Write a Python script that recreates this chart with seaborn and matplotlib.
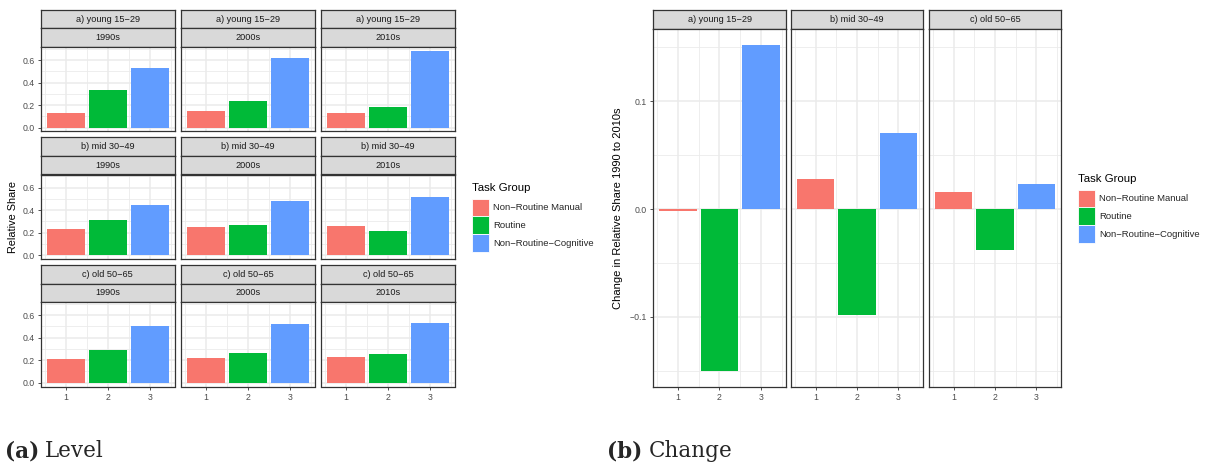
import matplotlib
matplotlib.use("Agg")
import matplotlib.pyplot as plt
import numpy as np
import pandas as pd
import seaborn as sns
from matplotlib.patches import Patch

sns.set_style("white")
plt.rcParams["font.family"] = ["Liberation Sans", "DejaVu Sans"]
plt.rcParams["axes.unicode_minus"] = True

# ---- data -------------------------------------------------------------
task_ids = [1, 2, 3]
task_groups = ["Non\u2212Routine Manual", "Routine", "Non\u2212Routine\u2212Cognitive"]
age_groups = ["a) young 15\u221229", "b) mid 30\u221249", "c) old 50\u221265"]
decades = ["1990s", "2000s", "2010s"]

# relative share per decade (rows) and task group (columns)
share_young = [[0.133, 0.337, 0.533],
               [0.144, 0.233, 0.621],
               [0.133, 0.186, 0.683]]
share_mid = [[0.235, 0.315, 0.447],
             [0.253, 0.271, 0.482],
             [0.262, 0.218, 0.518]]
share_old = [[0.210, 0.290, 0.503],
             [0.219, 0.263, 0.521],
             [0.225, 0.253, 0.527]]

# change in relative share, 1990s to 2010s
change_young = [-0.002, -0.150, 0.152]
change_mid = [0.028, -0.098, 0.071]
change_old = [0.016, -0.038, 0.023]

palette = ["#F8766D", "#00BA38", "#619CFF"]

# ---- style constants ---------------------------------------------------
W, H = 1208, 469
GRID = "#EBEBEB"
BORDER = "#333333"
STRIP = "#D9D9D9"
TICKCOL = "#4D4D4D"
TICK_FS = 6.3
STRIP_FS = 6.6

fig = plt.figure(figsize=(W / 100, H / 100), dpi=100)


def px(x0, y0, x1, y1):
    return [x0 / W, 1 - y1 / H, (x1 - x0) / W, (y1 - y0) / H]


def strip(x0, y0, x1, y1, label):
    ax = fig.add_axes(px(x0, y0, x1, y1))
    ax.set_facecolor(STRIP)
    ax.set_xticks([])
    ax.set_yticks([])
    for s in ax.spines.values():
        s.set_color(BORDER)
        s.set_linewidth(0.9)
    ax.text(0.5, 0.5, label, ha="center", va="center", fontsize=STRIP_FS,
            color="#1A1A1A", transform=ax.transAxes)
    return ax


def facet(rect, values, ylim, yticks, ylabels, yminor, show_y, show_x):
    ax = fig.add_axes(px(*rect))
    df = pd.DataFrame({"task": task_ids, "value": values, "group": task_groups})
    sns.barplot(data=df, x="task", y="value", hue="group", hue_order=task_groups,
                palette=palette, native_scale=True, width=0.9, dodge=False,
                saturation=1, linewidth=0, legend=False, ax=ax)
    ax.set_xlim(0.405, 3.595)
    ax.set_ylim(*ylim)
    ax.set_xticks(task_ids)
    ax.set_xticks([0.5, 1.5, 2.5, 3.5], minor=True)
    ax.set_yticks(yticks)
    ax.set_yticks(yminor, minor=True)
    ax.set_xticklabels([str(t) for t in task_ids] if show_x else [])
    ax.set_yticklabels(ylabels if show_y else [])
    ax.set_xlabel("")
    ax.set_ylabel("")
    ax.set_axisbelow(True)
    ax.grid(which="major", color=GRID, linewidth=1.15)
    ax.grid(which="minor", color=GRID, linewidth=0.6)
    ax.tick_params(which="major", length=2.2, width=0.6, color=BORDER,
                   labelsize=TICK_FS, labelcolor=TICKCOL, pad=2.3,
                   bottom=show_x, left=show_y)
    ax.tick_params(which="minor", length=0)
    for s in ax.spines.values():
        s.set_color(BORDER)
        s.set_linewidth(0.9)
    return ax


# ---- (a) level: 3 x 3 facets -----------------------------------------
shares = [share_young, share_mid, share_old]
all_levels = np.array(shares).ravel()
lv_max = all_levels.max()
level_ylim = (-0.05 * lv_max, 1.05 * lv_max)
col_x = [(40.7, 175), (181, 315), (321, 455)]
for r, (age, share) in enumerate(zip(age_groups, shares)):
    top = 10 + 127.5 * r
    for c, (dec, vals) in enumerate(zip(decades, share)):
        x0, x1 = col_x[c]
        strip(x0, top, x1, top + 18.5, age)
        strip(x0, top + 18.5, x1, top + 37, dec)
        facet((x0, top + 37, x1, top + 121.5), vals, level_ylim,
              [0.0, 0.2, 0.4, 0.6], ["0.0", "0.2", "0.4", "0.6"],
              [0.1, 0.3, 0.5, 0.7], show_y=(c == 0), show_x=(r == 2))

fig.text(12.5 / W, 1 - 217 / H, "Relative Share", rotation=90, ha="center",
         va="center", fontsize=7.8, color="black")

# ---- (b) change: 1 x 3 facets -----------------------------------------
changes = [change_young, change_mid, change_old]
all_changes = np.array(changes).ravel()
ch_span = all_changes.max() - all_changes.min()
change_ylim = (all_changes.min() - 0.05 * ch_span, all_changes.max() + 0.05 * ch_span)
col_xb = [(653, 786), (791, 923), (929, 1061)]
for c, (age, vals) in enumerate(zip(age_groups, changes)):
    x0, x1 = col_xb[c]
    strip(x0, 10, x1, 29, age)
    facet((x0, 29, x1, 387), vals, change_ylim,
          [-0.1, 0.0, 0.1], ["\u22120.1", "0.0", "0.1"],
          [-0.15, -0.05, 0.05, 0.15], show_y=(c == 0), show_x=True)

fig.text(618 / W, 1 - 208 / H, "Change in Relative Share 1990 to 2010s",
         rotation=90, ha="center", va="center", fontsize=8.0, color="black")

# ---- legends -----------------------------------------------------------
handles = [Patch(facecolor=col, edgecolor="white", linewidth=0.6) for col in palette]
for lx, ly in [(472, 183), (1078, 174)]:
    leg = fig.legend(handles, task_groups, title="Task Group", loc="upper left",
                     bbox_to_anchor=(lx / W, 1 - ly / H), frameon=False,
                     fontsize=6.8, title_fontsize=8.2, alignment="left",
                     handlelength=1.85, handleheight=2.5, labelspacing=0.0,
                     handletextpad=0.35, borderpad=0, borderaxespad=0)
    leg.get_title().set_color("black")
    leg._legend_box.sep = 4

# ---- panel captions ----------------------------------------------------
renderer = fig.canvas.get_renderer()
for cx, tag, word in [(5, "(a)", "Level"), (607, "(b)", "Change")]:
    t = fig.text(cx / W, 1 - 457 / H, tag, fontsize=15.5, fontweight="bold",
                 family="DejaVu Serif", va="baseline", ha="left")
    bb = t.get_window_extent(renderer=renderer)
    fig.text((bb.x1 + 6) / W, 1 - 457 / H, word, fontsize=15.5,
             family="DejaVu Serif", va="baseline", ha="left")

fig.savefig("out.png", dpi=100, facecolor="white")
